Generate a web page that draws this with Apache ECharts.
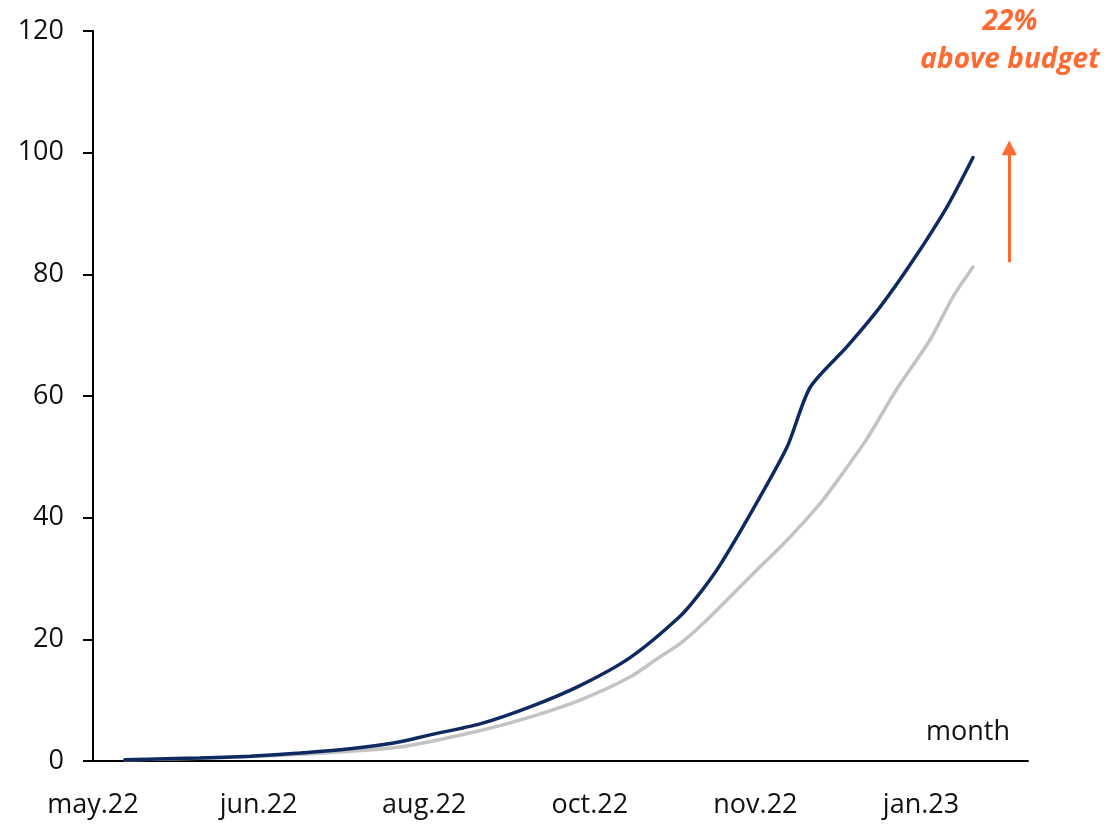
<!DOCTYPE html>
<html>
<head>
<meta charset="utf-8">
<script src="https://cdn.jsdelivr.net/npm/echarts@6/dist/echarts.min.js"></script>
<style>
  html, body { margin: 0; padding: 0; background: #ffffff; }
  #chart { width: 1107px; height: 825px; }
</style>
</head>
<body>
<div id="chart"></div>
<script>
// Month tick labels, one per axis step
const monthLabels = ['may.22', 'jun.22', 'aug.22', 'oct.22', 'nov.22', 'jan.23'];

// Actual cumulative spend (x in month-tick steps)
const actualX = [0.193, 0.344, 0.646, 0.948, 1.250, 1.552, 1.824, 2.035, 2.337, 2.639, 2.941, 3.243, 3.545, 3.665, 3.786, 3.986, 4.191, 4.330, 4.553, 4.752, 4.952, 5.157, 5.314];
const actualY = [0.2, 0.3, 0.5, 0.8, 1.3, 2.0, 3.0, 4.3, 6.1, 8.9, 12.4, 17.0, 23.8, 27.6, 32.2, 41.4, 51.6, 61.4, 68.1, 74.6, 82.3, 91.1, 99.2];

// Budgeted cumulative spend
const budgetX = [0.193, 0.646, 1.250, 1.854, 2.337, 2.639, 2.941, 3.243, 3.406, 3.545, 3.684, 3.986, 4.191, 4.390, 4.511, 4.674, 4.855, 5.054, 5.193, 5.314];
const budgetY = [0.2, 0.45, 1.1, 2.3, 5.0, 7.2, 10.0, 13.8, 16.8, 19.3, 22.6, 30.8, 36.3, 42.3, 46.7, 53.0, 61.2, 69.2, 76.3, 81.2];

// Overrun arrow: rises from the budget end level towards the actual end level
const arrowX = 5.533;
const arrowFrom = 82.0;
const arrowTo = 100.8;

const overrunPct = Math.round((actualY[actualY.length - 1] / budgetY[budgetY.length - 1] - 1) * 100);

const FONT = '"Open Sans", Lato, sans-serif';
const ORANGE = '#ff6a33';

const zip = (xs, ys) => xs.map((x, i) => [x, ys[i]]);

const chart = echarts.init(document.getElementById('chart'), null, { renderer: 'canvas' });

chart.setOption({
  animation: false,
  backgroundColor: '#ffffff',
  grid: { left: 93, right: 79, top: 31, bottom: 64 },
  xAxis: {
    type: 'value',
    min: 0,
    max: 5.646,
    interval: 1,
    splitLine: { show: false },
    axisTick: { show: false },
    axisLine: { onZero: false, lineStyle: { color: '#000000', width: 2 } },
    axisLabel: {
      margin: 31,
      fontFamily: FONT,
      fontSize: 27,
      color: '#111111',
      showMaxLabel: false,
      formatter: v => (Number.isInteger(v) && monthLabels[v] !== undefined) ? monthLabels[v] : ''
    }
  },
  yAxis: {
    type: 'value',
    min: 0,
    max: 120,
    interval: 20,
    splitLine: { show: false },
    axisLine: { show: true, lineStyle: { color: '#000000', width: 2 } },
    axisTick: { show: true, length: 10, lineStyle: { color: '#000000', width: 2 } },
    axisLabel: {
      margin: 29,
      fontFamily: FONT,
      fontSize: 27,
      color: '#111111'
    }
  },
  series: [
    {
      name: 'budget',
      type: 'line',
      data: zip(budgetX, budgetY),
      showSymbol: false,
      smooth: 0.25,
      lineStyle: { color: '#c3c3c3', width: 3.5, cap: 'round' },
      z: 2
    },
    {
      name: 'actual',
      type: 'line',
      data: zip(actualX, actualY),
      showSymbol: false,
      smooth: 0.25,
      lineStyle: { color: '#0f2a60', width: 3.5, cap: 'round' },
      z: 3,
      markLine: {
        silent: true,
        symbol: ['none', 'triangle'],
        symbolSize: [15, 15],
        label: { show: false },
        lineStyle: { color: ORANGE, width: 3, type: 'solid' },
        data: [[
          { coord: [arrowX, arrowFrom] },
          { coord: [arrowX, arrowTo] }
        ]]
      }
    }
  ],
  graphic: [
    {
      type: 'text',
      x: 1010,
      y: 732,
      style: {
        text: 'month',
        font: '27px ' + FONT,
        fill: '#111111',
        textAlign: 'right',
        textVerticalAlign: 'middle'
      }
    },
    {
      type: 'text',
      x: 1010,
      y: 41,
      style: {
        text: overrunPct + '%\nabove budget',
        font: 'italic bold 28px ' + FONT,
        fill: ORANGE,
        textAlign: 'center',
        textVerticalAlign: 'middle',
        lineHeight: 38
      }
    }
  ]
});
</script>
</body>
</html>
